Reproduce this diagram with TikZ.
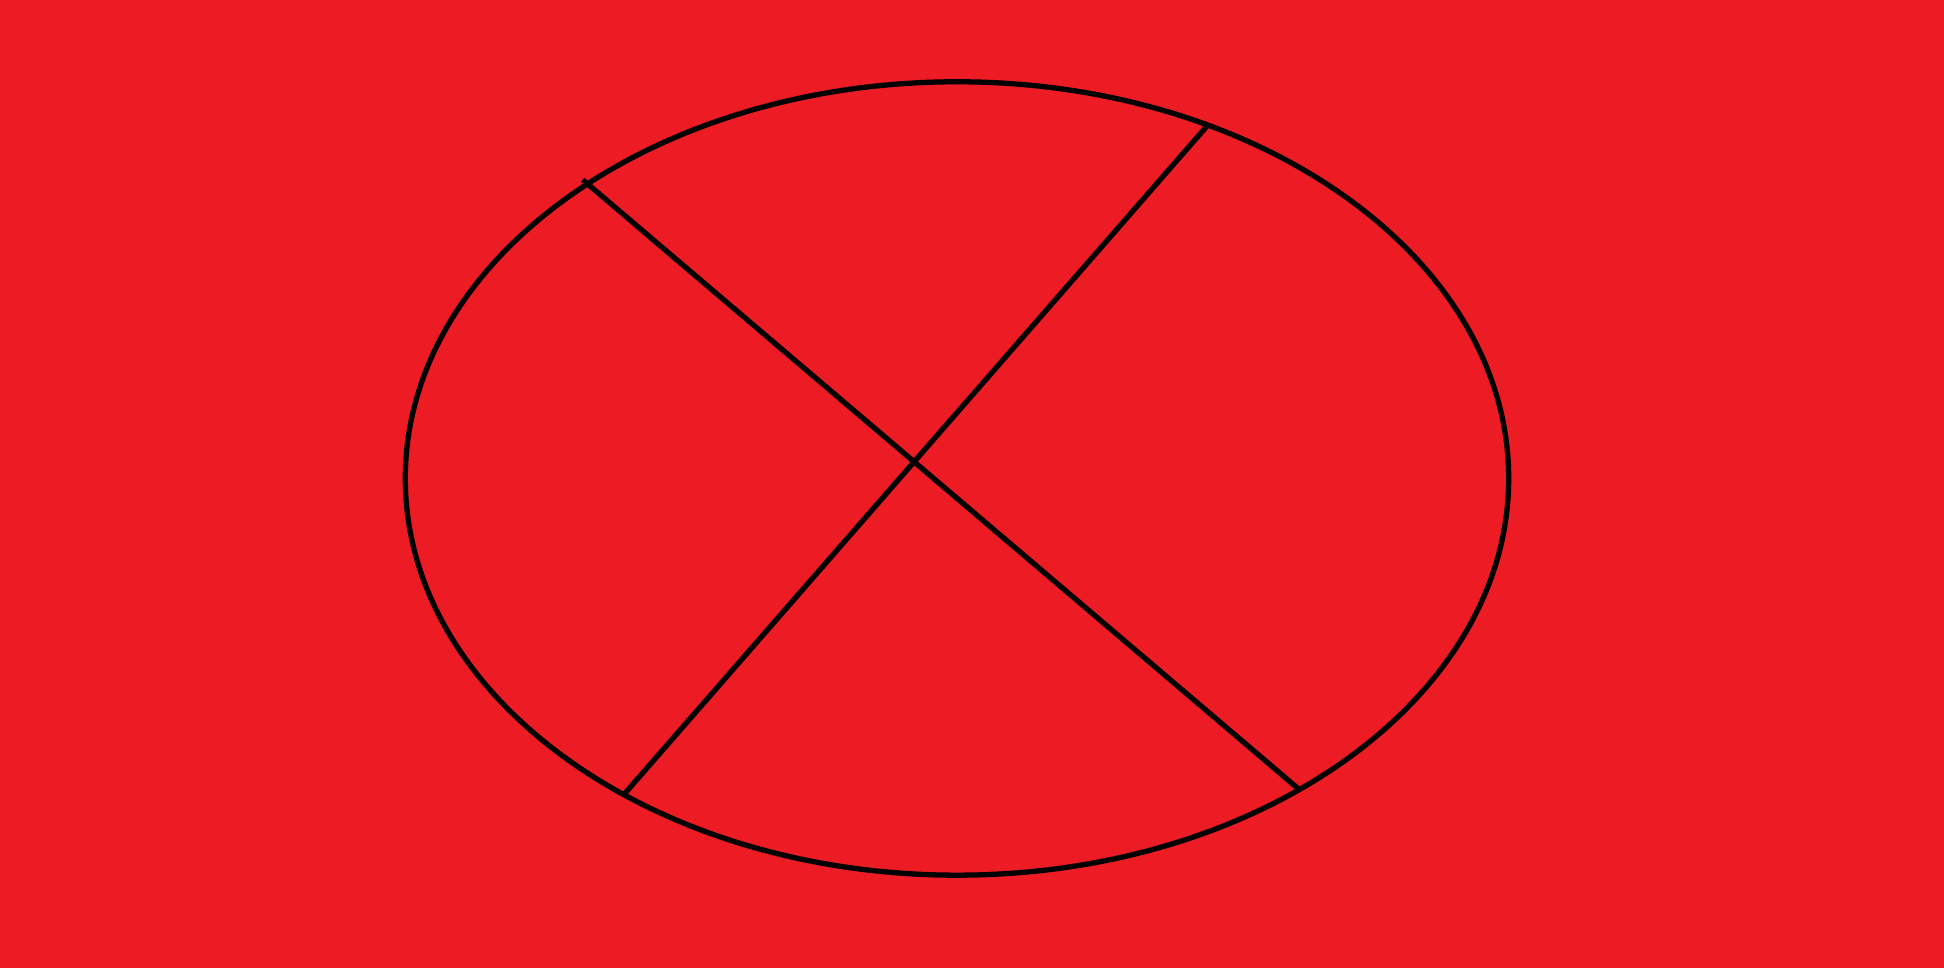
\documentclass[tikz,border=0pt]{standalone}
\definecolor{bgred}{HTML}{ED1C24}
\tikzset{stroke/.style={draw=black,line width=1.5pt}}
\begin{document}
\begin{tikzpicture}[x=0.01cm,y=0.01cm]
\fill[bgred] (0,0) rectangle (1944,968);
\useasboundingbox (0,0) rectangle (1944,968);
\coordinate (ctr) at (957,489.5);
\draw[stroke] (ctr) ellipse [x radius=551.7, y radius=396.7];
\coordinate (a) at (582.7,788.2);
\coordinate (b) at (1298,179.5);
\coordinate (c) at (1208.8,844);
\coordinate (d) at (624.8,174.5);
\draw[stroke] (a) -- (b);
\draw[stroke] (c) -- (d);
\end{tikzpicture}
\end{document}
